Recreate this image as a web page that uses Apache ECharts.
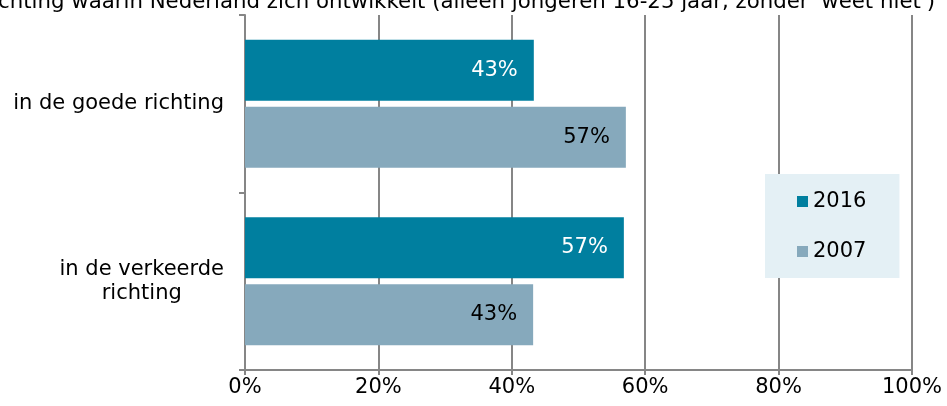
<!DOCTYPE html>
<html><head><meta charset="utf-8">
<script src="https://cdn.jsdelivr.net/npm/echarts@6/dist/echarts.min.js"></script>
<style>html,body{margin:0;padding:0;background:#fff}#c{width:947px;height:406px}</style>
</head><body><div id="c"></div>
<script>
const titleText = "Mening over de richting waarin Nederland zich ontwikkelt (alleen jongeren 16-25 jaar, zonder 'weet niet')";
const categories = ["in de goede richting", "in de verkeerde\nrichting"];
const seriesNames = ["2016", "2007"];
const values2016 = [43.3, 56.8];
const values2007 = [57.1, 43.2];
const xTicks = [0, 20, 40, 60, 80, 100];

const FONT = "DejaVu Sans";
const FS = 21;
const chart = echarts.init(document.getElementById('c'));
chart.setOption({
  animation: false,
  textStyle: { fontFamily: FONT },
  title: {
    text: titleText, right: 7, top: -13,
    textStyle: { fontFamily: FONT, fontSize: 21.3, fontWeight: 'normal', color: '#000' }
  },
  legend: {
    orient: 'vertical', left: 765, top: 174,
    padding: [17, 33, 16, 32], itemGap: 29,
    backgroundColor: '#e4f0f5',
    icon: 'rect', itemWidth: 11, itemHeight: 11,
    textStyle: { fontFamily: FONT, fontSize: FS, color: '#000' },
    data: seriesNames
  },
  grid: { left: 245, right: 35, top: 15, bottom: 36 },
  xAxis: {
    type: 'value', min: 0, max: 100, interval: 20,
    axisLine: { show: true, lineStyle: { color: '#868686', width: 2 } },
    axisTick: { show: true, length: 5, lineStyle: { color: '#868686', width: 2 } },
    splitLine: { show: true, lineStyle: { color: '#868686', width: 2 } },
    axisLabel: { fontFamily: FONT, fontSize: FS, color: '#000', margin: 7,
      formatter: v => xTicks.includes(v) ? v + '%' : '' }
  },
  yAxis: {
    type: 'category', inverse: true, data: categories,
    axisLine: { show: true, lineStyle: { color: '#868686', width: 2 } },
    axisTick: { show: true, length: 6, lineStyle: { color: '#868686', width: 2 } },
    axisLabel: {
      fontFamily: FONT, fontSize: FS, color: '#000', margin: 21, lineHeight: 24,
      formatter: v => v.split('\n').map(s => '{c|' + s + '}').join('\n'),
      rich: { c: { fontFamily: FONT, fontSize: FS, color: '#000', align: 'center', lineHeight: 24 } }
    }
  },
  series: [
    { name: seriesNames[0], type: 'bar', data: values2016, barWidth: 61, barGap: '10%',
      itemStyle: { color: '#007f9f' },
      label: { show: true, position: 'insideRight', distance: 16, color: '#fff',
        fontFamily: FONT, fontSize: FS, formatter: p => Math.round(p.value) + '%' } },
    { name: seriesNames[1], type: 'bar', data: values2007, barWidth: 61,
      itemStyle: { color: '#86a9bc' },
      label: { show: true, position: 'insideRight', distance: 16, color: '#000',
        fontFamily: FONT, fontSize: FS, formatter: p => Math.round(p.value) + '%' } }
  ]
});
</script></body></html>
